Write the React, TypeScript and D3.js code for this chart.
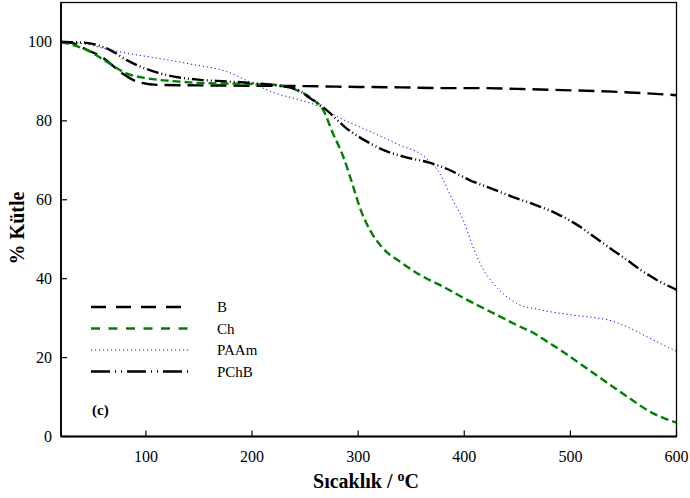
import React from "react";
import * as d3 from "d3";

const xTicks = [100, 200, 300, 400, 500, 600];
const yTicks = [0, 20, 40, 60, 80, 100];

const bTemp = [20, 30, 38, 60, 78, 91, 113, 150, 200, 250, 300, 340, 383, 415, 450, 493, 540, 570, 600];
const bVal = [100, 99.8, 98.8, 95.9, 92, 90, 89.1, 89, 88.9, 88.8, 88.6, 88.5, 88.3, 88.3, 88.1, 87.8, 87.4, 87.0, 86.5];

const chTemp = [20, 44, 63, 82, 101, 129, 151, 189, 223, 242, 258, 267, 276, 286, 294, 303, 311, 323, 339, 358, 380, 405, 433, 452, 465, 479, 490, 521, 553, 577, 600];
const chVal = [100, 98, 95, 92, 90.8, 90, 89.6, 89.4, 89.1, 87.8, 85.3, 82.8, 77, 70.9, 64.5, 57, 52.4, 47.8, 44.4, 41, 38, 34.3, 30.5, 27.9, 26.3, 23.9, 22, 16.2, 10.2, 6, 3.5];

const paTemp = [20, 40, 66, 90, 113, 144, 176, 200, 220, 245, 264, 283, 308, 339, 364, 377, 389, 399, 408, 418, 430, 449, 470, 499, 540, 559, 577, 600];
const paVal = [100, 99.6, 98, 96.8, 95.8, 94.3, 92.5, 89.6, 87.2, 85.3, 83.6, 80.7, 77.7, 73.9, 70.6, 66.6, 60, 54.9, 48.2, 42.3, 38, 33.8, 32.2, 30.9, 29.2, 27.1, 24.6, 21.6];

const pcTemp = [20, 38, 66, 82, 101, 123, 151, 176, 204, 240, 255, 270, 289, 308, 323, 342, 367, 384, 405, 424, 446, 468, 487, 506, 522, 537, 553, 568, 584, 600];
const pcVal = [100, 99.9, 98, 95.4, 93.1, 91.4, 90.4, 90, 89.5, 88.2, 85.7, 82.8, 78.1, 74.8, 72.7, 71, 69.4, 67.8, 65, 63, 60.7, 58.6, 56.5, 53.7, 50.7, 47.8, 44.8, 41.9, 39.3, 37.2];

const seriesNames = ["B", "Ch", "PAAm", "PChB"];

const W = 690;
const H = 498;
const left = 61;
const right = 676.5;
const top = 2.5;
const bottom = 436.5;

const x = d3.scaleLinear().domain([20, 600]).range([left, right]);
const y = d3.scaleLinear().domain([0, 110]).range([bottom, top]);

const line = d3
  .line<[number, number]>()
  .x((d) => x(d[0]))
  .y((d) => y(d[1]))
  .curve(d3.curveMonotoneX);

const zip = (a: number[], b: number[]): [number, number][] => a.map((t, i) => [t, b[i]]);

const styles = [
  { color: "#000000", width: 2.4, dash: "16,7" },
  { color: "#008000", width: 2.4, dash: "8,4" },
  { color: "#0000ff", width: 1, dash: "1.2,2.8" },
  { color: "#000000", width: 2.4, dash: "12,3,1,3,1,3" },
];

const data = [zip(bTemp, bVal), zip(chTemp, chVal), zip(paTemp, paVal), zip(pcTemp, pcVal)];

const ff = { fontFamily: "Liberation Serif, DejaVu Serif, serif" };

export default function App() {
  return (
    <svg
      width={W}
      height={H}
      style={{ position: "absolute", left: 0, top: 0, background: "#fff" }}
    >
      <rect x={0} y={0} width={W} height={H} fill="#fff" />
      <defs>
        <clipPath id="plot">
          <rect x={left} y={top} width={right - left} height={bottom - top} />
        </clipPath>
      </defs>
      <rect x={left} y={top} width={right - left} height={bottom - top} fill="none" stroke="#000" strokeWidth={1.3} />
      <line x1={left} x2={left} y1={top} y2={bottom} stroke="#000" strokeWidth={1.8} />
      <line x1={left} x2={right} y1={bottom} y2={bottom} stroke="#000" strokeWidth={1.8} />

      {xTicks.map((t) => (
        <g key={"x" + t}>
          <line x1={x(t)} x2={x(t)} y1={bottom} y2={bottom - 6} stroke="#000" strokeWidth={1.2} />
          <text x={x(t)} y={462} fontSize={16} textAnchor="middle" style={ff}>
            {t}
          </text>
        </g>
      ))}
      {yTicks.map((t) => (
        <g key={"y" + t}>
          <line x1={left} x2={left + 6} y1={y(t)} y2={y(t)} stroke="#000" strokeWidth={1.2} />
          <text x={52} y={y(t) + 5.5} fontSize={16} textAnchor="end" style={ff}>
            {t}
          </text>
        </g>
      ))}

      <text x={366} y={488} fontSize={20} fontWeight="bold" textAnchor="middle" style={ff}>
        Sıcaklık / <tspan dy={-7} fontSize={14}>o</tspan>
        <tspan dy={7}>C</tspan>
      </text>
      <text
        transform="translate(24,228) rotate(-90)"
        fontSize={20}
        fontWeight="bold"
        textAnchor="middle"
        style={ff}
      >
        % Kütle
      </text>

      <g clipPath="url(#plot)">
        {data.map((d, i) => (
          <path
            key={seriesNames[i]}
            d={line(d) || ""}
            fill="none"
            stroke={styles[i].color}
            strokeWidth={styles[i].width}
            strokeDasharray={styles[i].dash}
          />
        ))}
      </g>

      {seriesNames.map((n, i) => {
        const ly = 307 + i * 21.5;
        return (
          <g key={"lg" + n}>
            <line
              x1={91}
              x2={190}
              y1={ly}
              y2={ly}
              stroke={styles[i].color}
              strokeWidth={styles[i].width}
              strokeDasharray={i === 0 ? "15,10" : i === 1 ? "9,8.5" : i === 2 ? "1.2,2.8" : "19,5,1,5,1,5"}
            />
            <text x={217} y={ly + 5} fontSize={15} style={ff}>
              {n}
            </text>
          </g>
        );
      })}
      <text x={92} y={415} fontSize={15} fontWeight="bold" style={ff}>
        (c)
      </text>
    </svg>
  );
}
